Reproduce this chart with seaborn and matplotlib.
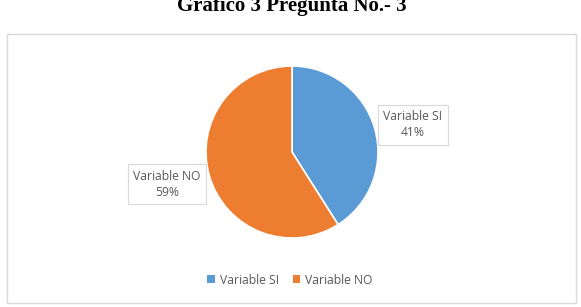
import matplotlib
matplotlib.use("Agg")
import matplotlib.pyplot as plt
import seaborn as sns
from matplotlib.patches import Rectangle, Patch

categories = ["Variable SI", "Variable NO"]
values = [41, 59]
colors = ["#5B9BD5", "#ED7D31"]
title = "Grafico 3 Pregunta No.- 3"

sns.set_theme(style="white")
plt.rcParams['font.family'] = ['Open Sans', 'DejaVu Sans']

W, H = 581, 307
fig = plt.figure(figsize=(W/100, H/100), dpi=100)
fig.patch.set_facecolor("white")

# chart border
fig.patches.append(Rectangle((7/W, 1-303/H), (576-7)/W, (303-34)/H, transform=fig.transFigure,
                             fill=False, edgecolor="#D9D9D9", linewidth=1.0))

# title
fig.text(292/W, 1-11/H, title, ha="center", va="baseline", fontsize=15,
         fontweight="bold", family=["Liberation Serif", "DejaVu Serif"], color="black")

cx, cy, r = 292, 152, 86
ax = fig.add_axes([(cx-r)/W, 1-(cy+r)/H, 2*r/W, 2*r/H])
wedges, _ = ax.pie(values, colors=colors, startangle=90, counterclock=False,
                   wedgeprops=dict(edgecolor="white", linewidth=1.2))
ax.set_xlim(-1, 1); ax.set_ylim(-1, 1)
ax.set_aspect("auto")
ax.axis("off")

# data labels
label_pos = [(413, 125), (167, 184)]
for cat, v, (lx, ly) in zip(categories, values, label_pos):
    fig.text(lx/W, 1-ly/H, f"{cat}\n{v}%", ha="center", va="center", fontsize=8.7,
             color="#595959", linespacing=1.3,
             bbox=dict(boxstyle="square,pad=0.45", facecolor="white", edgecolor="#D9D9D9", linewidth=0.8))

handles = [Patch(facecolor=c, edgecolor="none") for c in colors]
fig.legend(handles, categories, loc="center", bbox_to_anchor=(290/W, 1-280/H), ncol=2,
           frameon=False, fontsize=8.7, handlelength=0.6, handleheight=0.6,
           handletextpad=0.4, columnspacing=1.2, labelcolor="#595959")

fig.savefig("out.png", dpi=100)
